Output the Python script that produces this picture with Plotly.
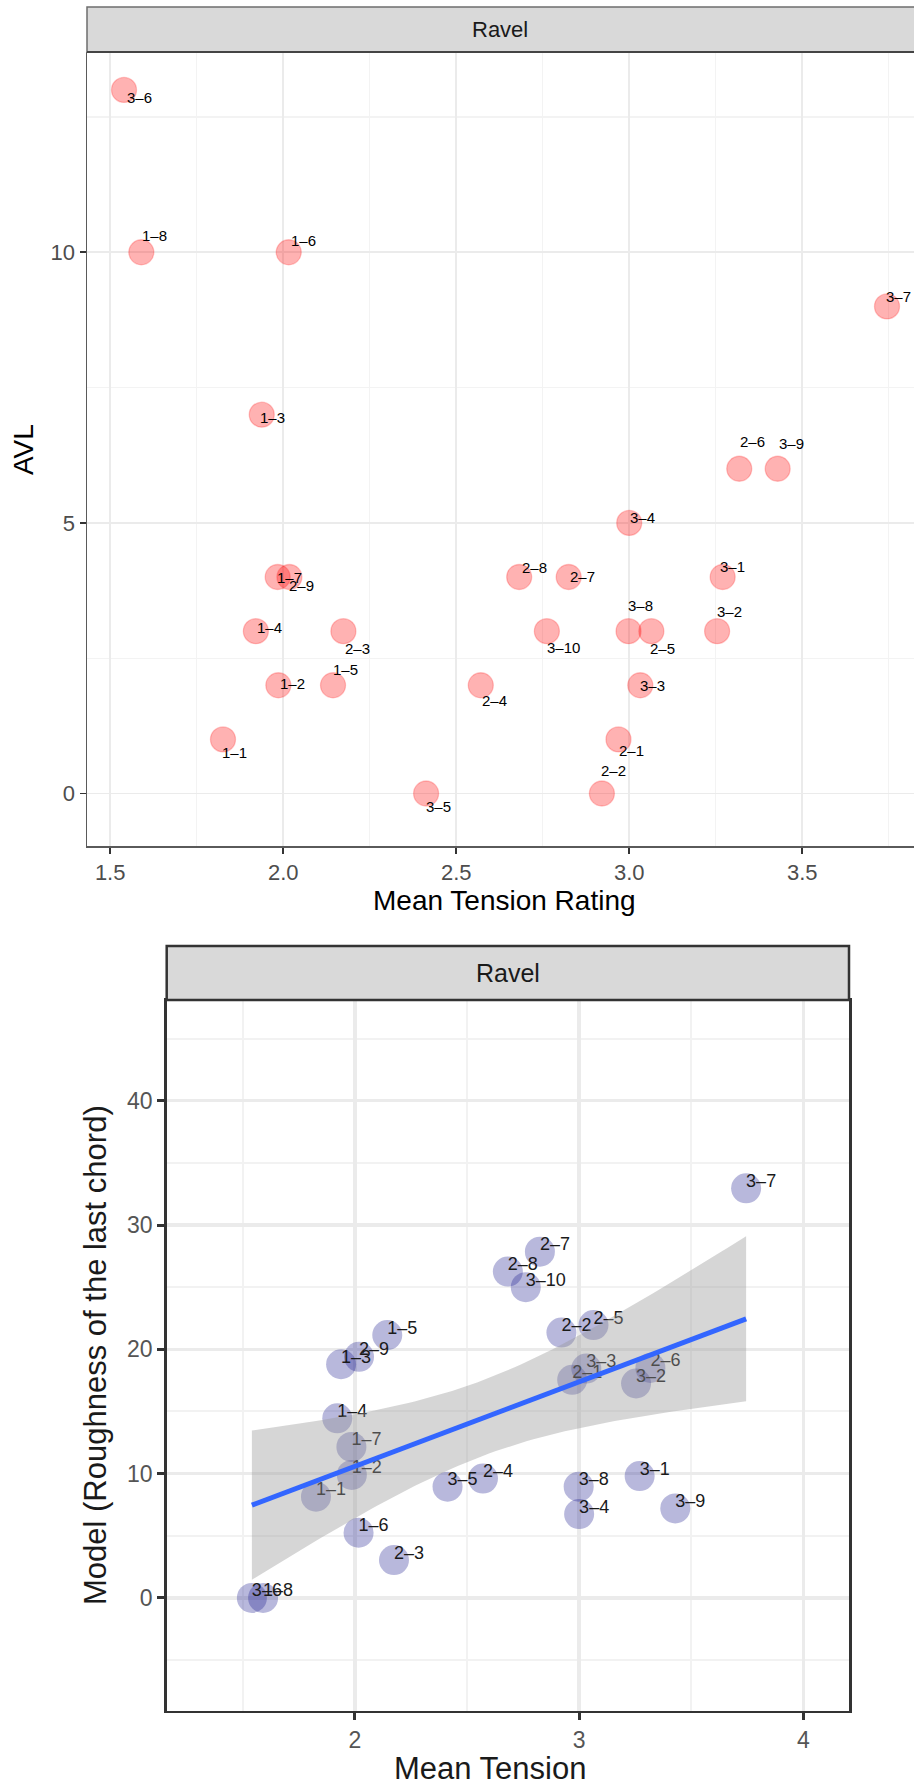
import numpy as np
import plotly.graph_objects as go

W, H = 914, 1789

# ---------------- data ----------------
labels = ["1-1", "1-2", "1-3", "1-4", "1-5", "1-6", "1-7", "1-8",
          "2-1", "2-2", "2-3", "2-4", "2-5", "2-6", "2-7", "2-8", "2-9",
          "3-1", "3-2", "3-3", "3-4", "3-5", "3-6", "3-7", "3-8", "3-9", "3-10"]

mean_tension = [1.826, 1.986, 1.938, 1.921, 2.144, 2.016, 1.984, 1.590,
                2.969, 2.921, 2.174, 2.571, 3.064, 3.318, 2.825, 2.682, 2.018,
                3.270, 3.254, 3.032, 3.000, 2.413, 1.540, 3.745, 2.998, 3.429, 2.762]

avl = [1, 2, 7, 3, 2, 10, 4, 10,
       1, 0, 3, 2, 3, 6, 4, 4, 4,
       4, 3, 2, 5, 0, 13, 9, 3, 6, 3]

roughness = [8.15, 9.9, 18.8, 14.45, 21.15, 5.25, 12.15, 0.0,
             17.55, 21.35, 3.05, 9.6, 21.95, 18.5, 27.85, 26.25, 19.4,
             9.8, 17.25, 18.45, 6.75, 8.95, 0.0, 32.95, 8.95, 7.2, 25.0]

facet = "Ravel"

top_xticks = [1.5, 2.0, 2.5, 3.0, 3.5]
top_xticktext = ["1.5", "2.0", "2.5", "3.0", "3.5"]
top_yticks = [0, 5, 10]
bot_xticks = [2, 3, 4]
bot_yticks = [0, 10, 20, 30, 40]

# label nudges for the top panel (pixels: right, down)
top_label_offsets = {
    "1-1": (12, 13), "1-2": (14, -2), "1-3": (11, 3), "1-4": (14, -4), "1-5": (12, -16),
    "1-6": (15, -12), "1-7": (12, 0), "1-8": (13, -17),
    "2-1": (13, 11), "2-2": (12, -23), "2-3": (14, 17), "2-4": (14, 15), "2-5": (11, 17),
    "2-6": (13, -27), "2-7": (14, -1), "2-8": (15, -10), "2-9": (12, 8),
    "3-1": (10, -11), "3-2": (12, -20), "3-3": (12, 0), "3-4": (13, -5), "3-5": (12, 13),
    "3-6": (15, 8), "3-7": (11, -10), "3-8": (12, -26), "3-9": (14, -25), "3-10": (17, 16),
}

disp = [l.replace("-", "\u2013") for l in labels]
FONT = "Liberation Sans, Arial, Helvetica, sans-serif"

# ---------------- geometry ----------------
def px_x(p):
    return p / W

def px_y(p):
    return 1 - p / H

top_dom_x = [px_x(87), 1.0]
top_dom_y = [px_y(846), px_y(52)]
top_rx = [1.433, 3.823]
top_ry = [-0.97, 13.7]

bot_dom_x = [px_x(166.7), px_x(849)]
bot_dom_y = [px_y(1710.7), px_y(1000)]
bot_rx = [1.16, 4.204]
bot_ry = [-9.07, 48.1]

fig = go.Figure()

# ---------------- top panel ----------------
fig.add_trace(go.Scatter(
    x=mean_tension, y=avl, mode="markers", xaxis="x", yaxis="y",
    marker=dict(size=25, color="rgba(255,0,0,0.30)",
                line=dict(width=1.3, color="rgba(255,0,0,0.22)")),
    hoverinfo="skip", showlegend=False))

annotations = []
for xv, yv, lab, d in zip(mean_tension, avl, labels, disp):
    dx, dy = top_label_offsets[lab]
    annotations.append(dict(x=xv, y=yv, xref="x", yref="y", text=d, showarrow=False,
                            xshift=dx, yshift=-dy, xanchor="center", yanchor="middle",
                            borderpad=0,
                            font=dict(size=15, color="#000000", family=FONT)))

# ---------------- bottom panel ----------------
xa = np.array(mean_tension, dtype=float)
ya = np.array(roughness, dtype=float)
n = len(xa)
xm, ym = xa.mean(), ya.mean()
sxx = ((xa - xm) ** 2).sum()
slope = ((xa - xm) * (ya - ym)).sum() / sxx
icpt = ym - slope * xm
resid = ya - (icpt + slope * xa)
s = np.sqrt((resid ** 2).sum() / (n - 2))
t975 = 2.0595  # t quantile, df = 25
xg = np.linspace(xa.min(), xa.max(), 80)
yg = icpt + slope * xg
se = s * np.sqrt(1 / n + (xg - xm) ** 2 / sxx)
upper = yg + t975 * se
lower = yg - t975 * se

fig.add_trace(go.Scatter(
    x=mean_tension, y=roughness, mode="markers", xaxis="x2", yaxis="y2",
    marker=dict(size=30, color="rgba(20,20,140,0.30)", line=dict(width=0)),
    hoverinfo="skip", showlegend=False))

# labels: left-aligned at the point, slightly above its centre
units_per_px = (bot_ry[1] - bot_ry[0]) / (710.7)
lab_y = [v + 6 * units_per_px for v in roughness]
fig.add_trace(go.Scatter(
    x=mean_tension, y=lab_y, mode="text", xaxis="x2", yaxis="y2",
    text=disp, textposition="middle right",
    textfont=dict(size=18, color="#1A1A1A", family=FONT),
    hoverinfo="skip", showlegend=False, cliponaxis=False))

fig.add_trace(go.Scatter(
    x=np.concatenate([xg, xg[::-1]]), y=np.concatenate([upper, lower[::-1]]),
    mode="lines", fill="toself", fillcolor="rgba(153,153,153,0.40)",
    line=dict(width=0), xaxis="x2", yaxis="y2", hoverinfo="skip", showlegend=False))

fig.add_trace(go.Scatter(
    x=xg, y=yg, mode="lines", line=dict(color="#3366FF", width=5),
    xaxis="x2", yaxis="y2", hoverinfo="skip", showlegend=False))

# ---------------- strips ----------------
shapes = [
    dict(type="rect", xref="paper", yref="paper", x0=px_x(87), x1=px_x(916),
         y0=px_y(52), y1=px_y(7), fillcolor="#D9D9D9",
         line=dict(color="#6E6E6E", width=1.5), layer="above"),
    dict(type="line", xref="paper", yref="paper", x0=px_x(87), x1=1.0,
         y0=px_y(52), y1=px_y(52), line=dict(color="#444444", width=2)),
    dict(type="rect", xref="paper", yref="paper", x0=bot_dom_x[0], x1=bot_dom_x[1],
         y0=px_y(1000), y1=px_y(946), fillcolor="#D9D9D9",
         line=dict(color="#333333", width=2.5), layer="above"),
]

annotations += [
    dict(x=(top_dom_x[0] + top_dom_x[1]) / 2, y=px_y(29.5), xref="paper", yref="paper",
         text=facet, showarrow=False, xanchor="center", yanchor="middle",
         font=dict(size=22, color="#1A1A1A", family=FONT)),
    dict(x=(bot_dom_x[0] + bot_dom_x[1]) / 2, y=px_y(973), xref="paper", yref="paper",
         text=facet, showarrow=False, xanchor="center", yanchor="middle",
         font=dict(size=25, color="#1A1A1A", family=FONT)),
    dict(x=px_x(504), y=px_y(900), xref="paper", yref="paper", text="Mean Tension Rating",
         showarrow=False, xanchor="center", yanchor="middle",
         font=dict(size=28, color="#000000", family=FONT)),
    dict(x=px_x(23), y=px_y(450), xref="paper", yref="paper", text="AVL", textangle=-90,
         showarrow=False, xanchor="center", yanchor="middle",
         font=dict(size=28, color="#000000", family=FONT)),
    dict(x=px_x(490), y=px_y(1768), xref="paper", yref="paper", text="Mean Tension",
         showarrow=False, xanchor="center", yanchor="middle", borderpad=0,
         font=dict(size=31, color="#1A1A1A", family=FONT)),
    dict(x=px_x(95), y=px_y(1355), xref="paper", yref="paper",
         text="Model (Roughness of the last chord)", textangle=-90,
         showarrow=False, xanchor="center", yanchor="middle",
         font=dict(size=31, color="#1A1A1A", family=FONT)),
]

top_axis_common = dict(
    showgrid=True, gridcolor="#EBEBEB", gridwidth=1.6, zeroline=False,
    showline=True, linecolor="#5A5A5A", linewidth=1.5,
    ticks="outside", ticklen=6, tickwidth=1.6, tickcolor="#333333",
    tickfont=dict(size=22, color="#4D4D4D", family=FONT), fixedrange=True)

bot_axis_common = dict(
    showgrid=True, gridcolor="#EBEBEB", gridwidth=3.5, zeroline=False,
    showline=True, mirror=True, linecolor="#333333", linewidth=2.5,
    ticks="outside", ticklen=7, tickwidth=3, tickcolor="#333333",
    tickfont=dict(size=23, color="#555555", family=FONT), fixedrange=True)

fig.update_layout(
    width=W, height=H, margin=dict(l=0, r=0, t=0, b=0),
    paper_bgcolor="white", plot_bgcolor="white", showlegend=False,
    font=dict(family=FONT), hovermode=False,
    xaxis=dict(domain=top_dom_x, range=top_rx, anchor="y",
               tickvals=top_xticks, ticktext=top_xticktext,
               minor=dict(tickvals=[1.75, 2.25, 2.75, 3.25, 3.75], showgrid=True,
                          gridcolor="#F3F3F3", gridwidth=1.2, ticks=""),
               **top_axis_common),
    yaxis=dict(domain=top_dom_y, range=top_ry, anchor="x",
               tickvals=top_yticks, ticktext=[str(v) for v in top_yticks],
               minor=dict(tickvals=[2.5, 7.5, 12.5], showgrid=True,
                          gridcolor="#F3F3F3", gridwidth=1.2, ticks=""),
               **top_axis_common),
    xaxis2=dict(domain=bot_dom_x, range=bot_rx, anchor="y2",
                tickvals=bot_xticks, ticktext=[str(v) for v in bot_xticks],
                minor=dict(tickvals=[1.5, 2.5, 3.5], showgrid=True,
                           gridcolor="#F2F2F2", gridwidth=2, ticks=""),
                **bot_axis_common),
    yaxis2=dict(domain=bot_dom_y, range=bot_ry, anchor="x2",
                tickvals=bot_yticks, ticktext=[str(v) for v in bot_yticks],
                minor=dict(tickvals=[-5, 5, 15, 25, 35, 45], showgrid=True,
                           gridcolor="#F2F2F2", gridwidth=2, ticks=""),
                **bot_axis_common),
    shapes=shapes, annotations=annotations,
)

# remove the browser's default page margin so the figure sits at the window origin
fig.write_html("out.html",
               config={"displayModeBar": False, "staticPlot": True},
               post_script="document.body.style.margin='0';document.body.style.overflow='hidden';")
